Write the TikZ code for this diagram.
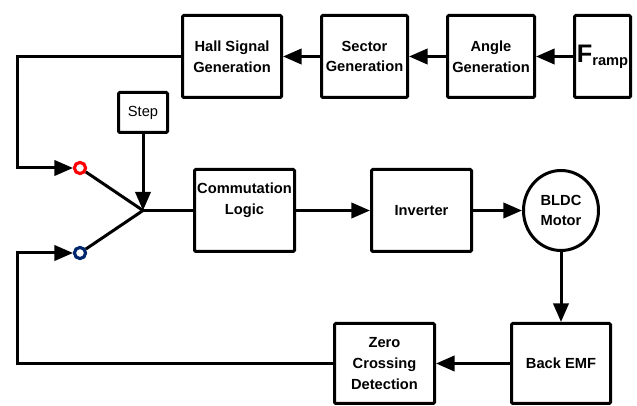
\documentclass[tikz,border=0pt]{standalone}
\usepackage{fontspec}
\setmainfont{Liberation Sans}
\usetikzlibrary{arrows.meta,shapes.geometric}
\definecolor{navy}{RGB}{0,38,110}
\definecolor{sred}{RGB}{255,0,0}
\begin{document}
\begin{tikzpicture}[x=0.75pt,y=-0.75pt,
  every path/.style={line width=2.25pt},
  blk/.style={draw,line width=2.25pt,rounded corners=1pt,align=center,inner sep=0pt,
    font=\fontsize{11}{15.5}\selectfont\bfseries},
  tall/.style={minimum height=61.5pt},
  short/.style={minimum height=60pt},
  arr/.style={-{Triangle[length=14pt,width=11.5pt]}},
  term/.style={circle,draw,line width=2.25pt,minimum size=8.25pt,inner sep=0pt,fill=white}]
\useasboundingbox (0,0) rectangle (637,406);
% top row
\node[blk,tall,minimum width=74.25pt] (hall) at (232,56.5) {Hall Signal\\Generation};
\node[blk,tall,minimum width=64.5pt] (sector) at (364.5,56.5) {Sector\\Generation};
\node[blk,tall,minimum width=65.25pt] (angle) at (491,56.5) {Angle\\Generation};
\node[blk,tall,minimum width=42pt] (framp) at (602.5,56.5) {{\fontsize{19}{19}\selectfont F}\raisebox{-2pt}{ramp}};
% step
\node[blk,minimum width=36.75pt,minimum height=30pt,font=\fontsize{11}{13}\selectfont] (step) at (143,112.5) {Step};
% middle row
\node[blk,tall,minimum width=75pt] (comm) at (244.5,210.5) {Commutation\\Logic\\[2pt]};
\node[blk,tall,minimum width=75pt] (inv) at (421.5,210.5) {Inverter};
\node[blk,ellipse,minimum width=56.25pt,minimum height=60pt] (motor) at (561,210.5) {BLDC\\Motor};
% bottom row
\node[blk,short,minimum width=75pt] (zero) at (384.5,363.5) {Zero\\Crossing\\Detection};
\node[blk,short,minimum width=74.25pt] (back) at (561,363.5) {Back EMF};
% switch
\node[term,draw=sred] (red) at (80,168) {};
\node[term,draw=navy] (blue) at (80,253) {};
\coordinate (jn) at (143,210.5);
\coordinate (tl) at (17,56.5);
\coordinate (ml) at (17,168);
\coordinate (bl) at (17,253);
\coordinate (bb) at (17,363.5);
% connectors
\draw[arr] (framp.west) -- (angle.east);
\draw[arr] (angle.west) -- (sector.east);
\draw[arr] (sector.west) -- (hall.east);
\draw[arr] (hall.west) -- (tl) -- (ml) -- (red.west);
\draw (red) -- (jn);
\draw (blue) -- (jn);
\draw[arr] (step.south) -- (jn);
\draw (jn) -- (comm.west);
\draw[arr] (comm.east) -- (inv.west);
\draw[arr] (inv.east) -- (motor.west);
\draw[arr] (motor.south) -- (back.north);
\draw[arr] (back.west) -- (zero.east);
\draw[arr] (zero.west) -- (bb) -- (bl) -- (blue.west);
\node[term,draw=sred] at (red) {};
\node[term,draw=navy] at (blue) {};
\end{tikzpicture}
\end{document}
